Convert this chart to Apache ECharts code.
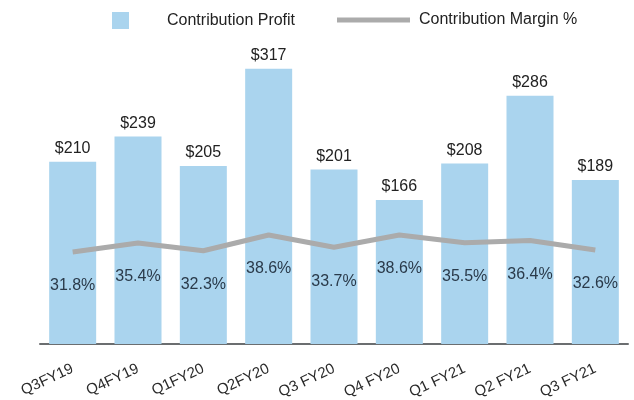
<!DOCTYPE html>
<html>
<head>
<meta charset="utf-8">
<script src="https://cdn.jsdelivr.net/npm/echarts@6/dist/echarts.min.js"></script>
<style>
html,body{margin:0;padding:0;background:#fff;}
#chart{width:634px;height:400px;}
</style>
</head>
<body>
<div id="chart"></div>
<script>
const categories = ['Q3FY19','Q4FY19','Q1FY20','Q2FY20','Q3 FY20','Q4 FY20','Q1 FY21','Q2 FY21','Q3 FY21'];
const contributionProfit = [210, 239, 205, 317, 201, 166, 208, 286, 189];
const contributionMargin = [31.8, 35.4, 32.3, 38.6, 33.7, 38.6, 35.5, 36.4, 32.6];

const FONT = 'Liberation Sans, Arial, sans-serif';
const chart = echarts.init(document.getElementById('chart'));
chart.setOption({
  backgroundColor: '#ffffff',
  animation: false,
  legend: [
    {
      data: ['Contribution Profit'],
      left: 112, top: 12, padding: 0,
      itemWidth: 17, itemHeight: 17,
      icon: 'rect',
      textStyle: { fontFamily: FONT, fontSize: 16, color: '#222', padding: [6,0,0,33] }
    },
    {
      data: ['Contribution Margin %'],
      left: 337, top: 12, padding: 0,
      itemWidth: 73, itemHeight: 5,
      icon: 'rect',
      textStyle: { fontFamily: FONT, fontSize: 16, color: '#222', padding: [6,0,0,4] }
    }
  ],
  grid: { left: 40, right: 6, top: 44, bottom: 56, outerBoundsMode: 'none' },
  xAxis: {
    type: 'category',
    data: categories,
    axisLine: { lineStyle: { color: '#6b6e70', width: 2 } },
    axisTick: { show: false },
    axisLabel: { rotate: 25, margin: 24, fontFamily: FONT, fontSize: 15, color: '#2a2a2a', interval: 0 }
  },
  yAxis: [
    { type: 'value', min: 0, max: 345.6, show: false, splitLine: { show: false } },
    { type: 'value', min: -5, max: 115, show: false, splitLine: { show: false } }
  ],
  series: [
    {
      name: 'Contribution Profit',
      type: 'bar',
      data: contributionProfit,
      barWidth: 47,
      itemStyle: { color: '#aad4ee' },
      label: {
        show: true, position: 'top', distance: 5,
        formatter: p => '$' + p.value,
        fontFamily: FONT, fontSize: 16, color: '#222'
      }
    },
    {
      name: 'Contribution Margin %',
      type: 'line',
      yAxisIndex: 1,
      data: contributionMargin,
      symbol: 'circle', symbolSize: 0.1, showSymbol: true,
      lineStyle: { color: '#ababab', width: 5 },
      itemStyle: { color: '#ababab' },
      label: {
        show: true, position: 'bottom', distance: 26,
        formatter: p => p.value.toFixed(1) + '%',
        fontFamily: FONT, fontSize: 16, color: '#2a3a4a'
      }
    }
  ]
});
</script>
</body>
</html>
